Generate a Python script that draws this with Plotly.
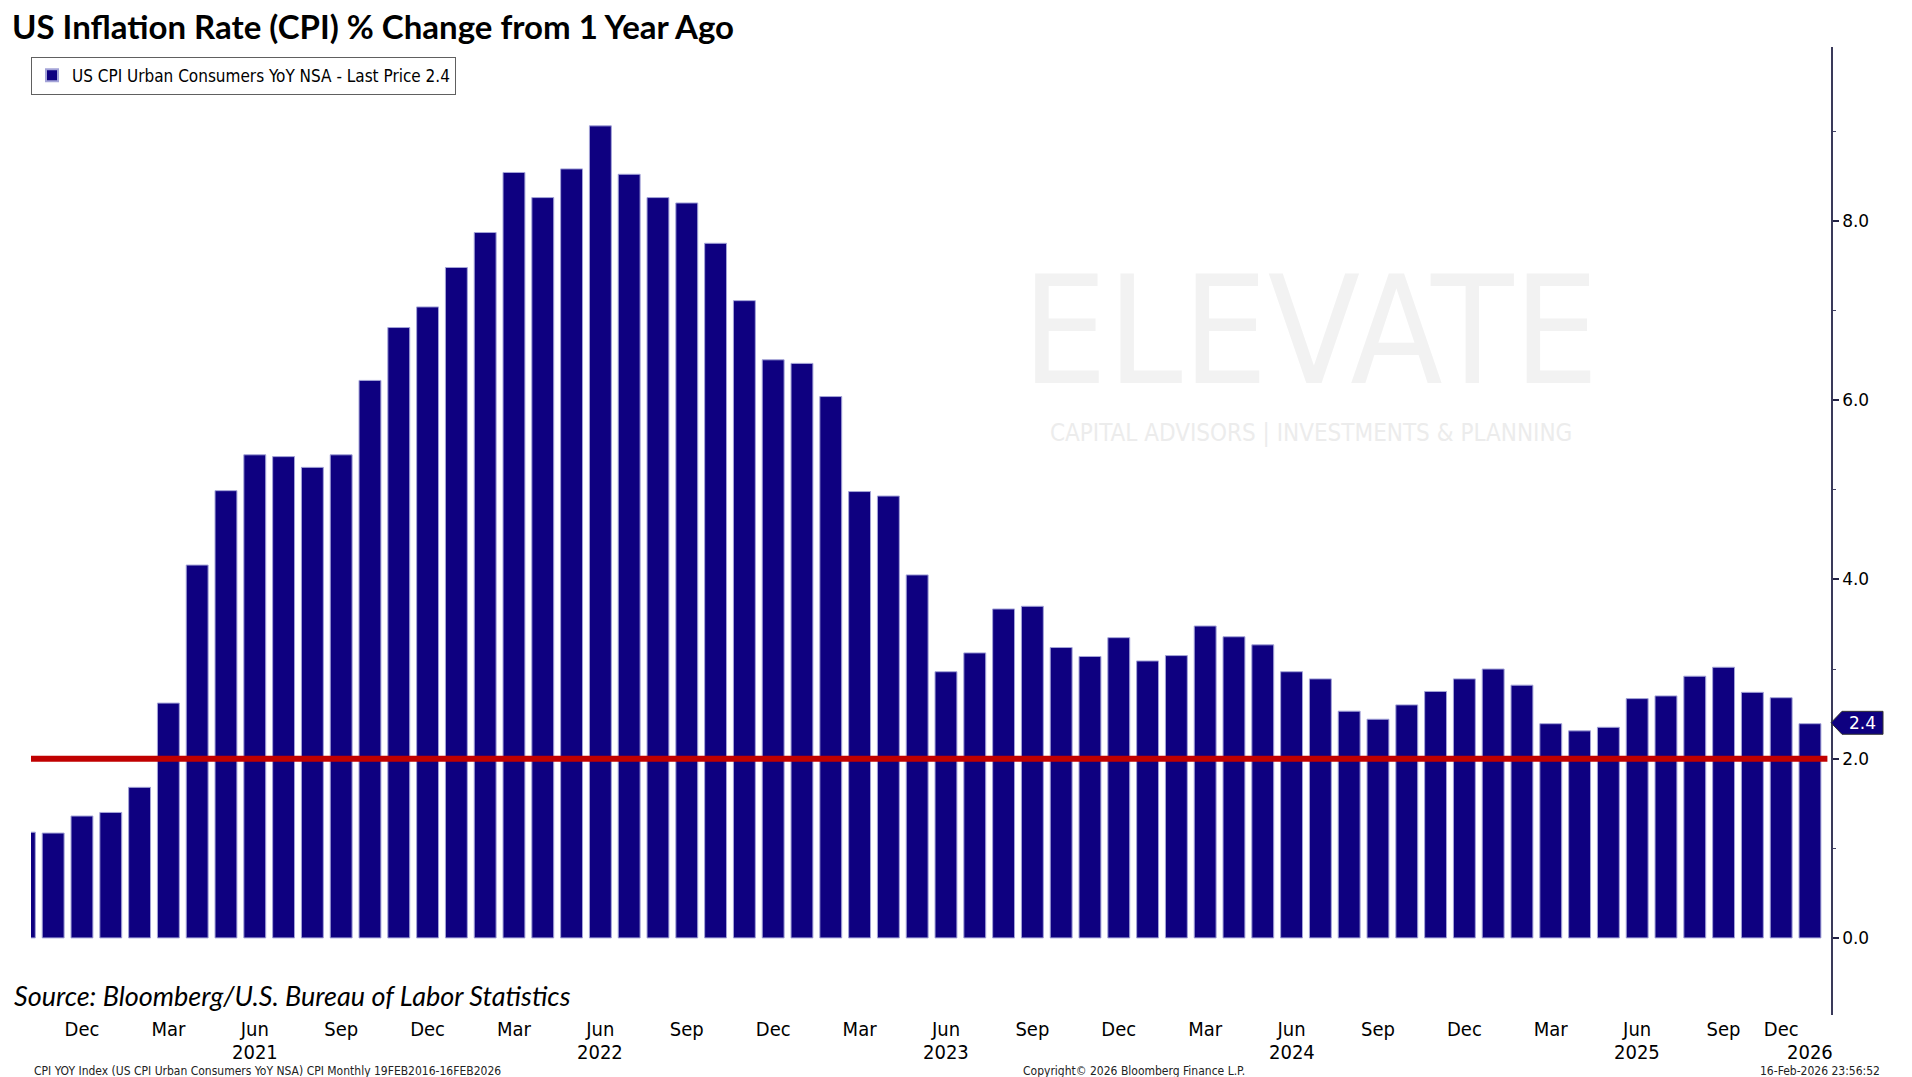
import plotly.graph_objects as go
import pandas as pd

# ---------------- data ----------------
# Monthly observations (Oct-2025 release missing -> not plotted, axis skips it)
MONTHS = [p.strftime("%Y-%m") for p in pd.period_range("2020-10", "2026-01", freq="M")
          if p.strftime("%Y-%m") != "2025-10"]

CPI_YOY = [
    1.18, 1.17, 1.36,                                                     # Oct-Dec 2020
    1.40, 1.68, 2.62, 4.16, 4.99, 5.39, 5.37, 5.25, 5.39, 6.22, 6.81, 7.04,  # 2021
    7.48, 7.87, 8.54, 8.26, 8.58, 9.06, 8.52, 8.26, 8.20, 7.75, 7.11, 6.45,  # 2022
    6.41, 6.04, 4.98, 4.93, 4.05, 2.97, 3.18, 3.67, 3.70, 3.24, 3.14, 3.35,  # 2023
    3.09, 3.15, 3.48, 3.36, 3.27, 2.97, 2.89, 2.53, 2.44, 2.60, 2.75, 2.89,  # 2024
    3.00, 2.82, 2.39, 2.31, 2.35, 2.67, 2.70, 2.92, 3.02, 2.74, 2.68,        # 2025 (no Oct)
    2.39,                                                                 # Jan 2026
]

TICK_MONTHS = ["2020-12", "2021-03", "2021-06", "2021-09", "2021-12", "2022-03", "2022-06",
               "2022-09", "2022-12", "2023-03", "2023-06", "2023-09", "2023-12", "2024-03",
               "2024-06", "2024-09", "2024-12", "2025-03", "2025-06", "2025-09", "2025-12"]
TICK_TEXT = ["Dec", "Mar", "Jun", "Sep", "Dec", "Mar", "Jun",
             "Sep", "Dec", "Mar", "Jun", "Sep", "Dec", "Mar",
             "Jun", "Sep", "Dec", "Mar", "Jun", "Sep", "Dec"]

YEAR_POS = ["2021-06", "2022-06", "2023-06", "2024-06", "2025-06", "2026-01"]
YEAR_TEXT = ["2021", "2022", "2023", "2024", "2025", "2026"]

Y_TICKS = [0, 2, 4, 6, 8]
TARGET = 2.0
LAST_PRICE = 2.4
SERIES_NAME = "US CPI Urban Consumers YoY NSA - Last Price 2.4"

NAVY = "#0e0080"
NARROW = "Liberation Sans Narrow, DejaVu Sans Condensed, Arial Narrow, sans-serif"

fig = go.Figure()
fig.add_trace(go.Bar(
    x=MONTHS, y=CPI_YOY, name=SERIES_NAME,
    marker=dict(color=NAVY, line=dict(color="#a4a4d8", width=1)),
    showlegend=True,
))

fig.update_layout(
    width=1912, height=1077,
    margin=dict(l=31, r=81, t=47, b=62),
    paper_bgcolor="white", plot_bgcolor="white",
    bargap=0.24,
    showlegend=True,
    legend=dict(x=0.0, y=0.99, xanchor="left", yanchor="top",
                bgcolor="white", bordercolor="#606060", borderwidth=1,
                font=dict(family=NARROW, size=17, color="black"),
                itemsizing="constant"),
    title=dict(text="<b>US Inflation Rate (CPI) % Change from 1 Year Ago</b>",
               xref="container", x=12 / 1912, xanchor="left",
               yref="container", y=1 - 27 / 1077, yanchor="middle",
               font=dict(family="Lato, Open Sans, sans-serif", size=33, color="black")),
    xaxis=dict(type="category", range=[0.23, 62.73], automargin=False,
               tickmode="array", tickvals=TICK_MONTHS, ticktext=TICK_TEXT, tickangle=0,
               showgrid=False, showline=False, zeroline=False, ticks="",
               tickfont=dict(family=NARROW, size=20, color="black"),
               fixedrange=True),
    yaxis=dict(side="right", range=[-0.86, 9.94], automargin=False,
               tickmode="array", tickvals=Y_TICKS, tickformat=".1f",
               showgrid=False, zeroline=False,
               showline=True, linecolor="#3a3a5a", linewidth=1.5,
               ticks="outside", ticklen=6, tickwidth=2, tickcolor="#222244",
               minor=dict(dtick=1, ticks="outside", ticklen=3, tickwidth=1, tickcolor="#444466"),
               tickfont=dict(family="DejaVu Sans, sans-serif", size=17, color="black"),
               fixedrange=True),
)

# year labels under the month ticks
for pos, txt in zip(YEAR_POS, YEAR_TEXT):
    fig.add_annotation(xref="x", yref="paper", x=pos, y=(1015 - 1052) / 968, text=txt,
                       showarrow=False, xanchor="center", yanchor="middle", borderpad=0,
                       font=dict(family=NARROW, size=20, color="black"))

# 2% target line
fig.add_shape(type="line", xref="paper", yref="y", x0=0, x1=0.998, y0=TARGET, y1=TARGET,
              line=dict(color="#c00000", width=6), layer="above")

# last price tag on the axis
tip, body, end, h = 1.0, 1.0061, 1.0289, 0.128
fig.add_shape(type="path", xref="paper", yref="y",
              path=f"M {tip},{LAST_PRICE} L {body},{LAST_PRICE + h} L {end},{LAST_PRICE + h} "
                   f"L {end},{LAST_PRICE - h} L {body},{LAST_PRICE - h} Z",
              fillcolor=NAVY, line=dict(color="#333333", width=1), layer="above")
fig.add_annotation(xref="paper", yref="y", x=(body + end) / 2, y=LAST_PRICE,
                   text=f"{LAST_PRICE:.1f}", showarrow=False, xanchor="center", yanchor="middle",
                   font=dict(family="DejaVu Sans, sans-serif", size=17, color="white"))

# watermark
fig.add_annotation(xref="paper", yref="paper", x=0.711, y=(1015 - 242) / 968, text="ELEVATE",
                   showarrow=False, xanchor="center", yanchor="top",
                   font=dict(family=NARROW, size=150, color="#f2f2f2"))
fig.add_annotation(xref="paper", yref="paper", x=0.711, y=(1015 - 433) / 968,
                   text="CAPITAL ADVISORS | INVESTMENTS &amp; PLANNING",
                   showarrow=False, xanchor="center", yanchor="middle",
                   font=dict(family=NARROW, size=24, color="#ececec"))

# source + footer texts
fig.add_annotation(xref="paper", yref="paper", x=(12 - 31) / 1800, y=(1015 - 995) / 968,
                   text="<i>Source: Bloomberg/U.S. Bureau of Labor Statistics</i>",
                   showarrow=False, xanchor="left", yanchor="middle",
                   font=dict(family="Lato, Open Sans, sans-serif", size=27, color="black"))
fig.add_annotation(xref="paper", yref="paper", x=(33 - 31) / 1800, y=(1015 - 1071) / 968,
                   text="CPI YOY Index (US CPI Urban Consumers YoY NSA) CPI Monthly 19FEB2016-16FEB2026",
                   showarrow=False, xanchor="left", yanchor="middle", borderpad=0,
                   font=dict(family=NARROW, size=12, color="#222222"))
fig.add_annotation(xref="paper", yref="paper", x=(1134 - 31) / 1800, y=(1015 - 1071) / 968,
                   text="Copyright\u00a9 2026 Bloomberg Finance L.P.",
                   showarrow=False, xanchor="center", yanchor="middle", borderpad=0,
                   font=dict(family=NARROW, size=12, color="#222222"))
fig.add_annotation(xref="paper", yref="paper", x=(1881 - 31) / 1800, y=(1015 - 1071) / 968,
                   text="16-Feb-2026 23:56:52",
                   showarrow=False, xanchor="right", yanchor="middle", borderpad=0,
                   font=dict(family=NARROW, size=12, color="#222222"))

fig.write_html("out.html", config={"displayModeBar": False},
               post_script="document.body.style.margin='0';")
